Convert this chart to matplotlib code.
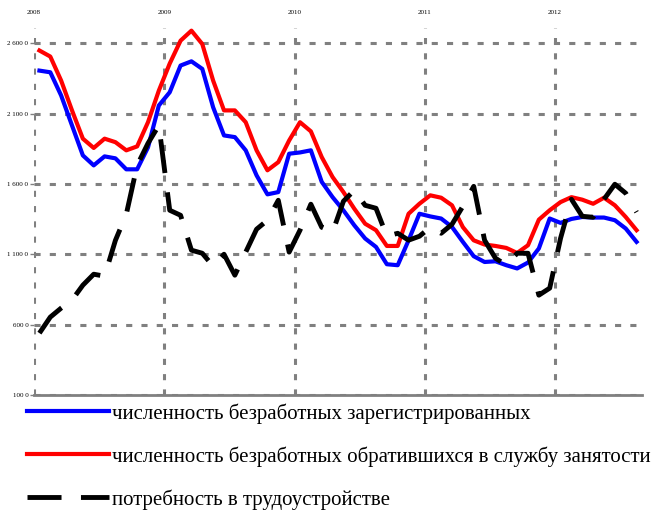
import numpy as np
import matplotlib.pyplot as plt

plt.rcParams['font.family'] = ['Liberation Serif', 'DejaVu Serif']

# monthly data, Jan 2008 - Aug 2012
years = ["2008", "2009", "2010", "2011", "2012"]
ytick_vals = [100, 600, 1100, 1600, 2100, 2600]
ytick_labels = ["100 0", "600 0", "1 100 0", "1 600 0", "2 100 0", "2 600 0"]

registered = [2407, 2395, 2230, 2017, 1804, 1733, 1797, 1783, 1705, 1705, 1861, 2159,
              2253, 2443, 2473, 2419, 2146, 1946, 1934, 1840, 1662, 1527, 1543, 1816,
              1825, 1840, 1616, 1507, 1413, 1307, 1213, 1153, 1030, 1023, 1200, 1389,
              1370, 1355, 1295, 1189, 1087, 1046, 1051, 1023, 1000, 1042, 1142, 1355,
              1324, 1352, 1366, 1362, 1362, 1343, 1284, 1189]

applied = [2550, 2507, 2336, 2124, 1923, 1857, 1923, 1898, 1840, 1868, 2040, 2265,
           2457, 2620, 2691, 2596, 2336, 2124, 2124, 2040, 1840, 1698, 1756, 1910,
           2040, 1975, 1792, 1650, 1543, 1425, 1318, 1272, 1160, 1160, 1389, 1460,
           1520, 1503, 1449, 1294, 1200, 1170, 1160, 1146, 1110, 1165, 1347, 1414,
           1472, 1507, 1489, 1460, 1503, 1449, 1366, 1272]

demand = [540, 654, 718, 775, 881, 959, 945, 1200, 1385, 1733, 1890, 2018,
          1414, 1378, 1130, 1108, 1016, 1101, 952, 1116, 1279, 1343, 1485, 1116,
          1272, 1457, 1293, 1258, 1478, 1556, 1449, 1428, 1229, 1250, 1201, 1229,
          1293, 1250, 1314, 1442, 1584, 1201, 1073, 1023, 1108, 1108, 810, 860,
          1215, 1492, 1371, 1364, 1492, 1599, 1535, 1400]

labels = ["численность безработных зарегистрированных",
          "численность безработных обратившихся в службу занятости",
          "потребность в трудоустройстве"]

x = np.arange(len(registered)) + 0.5

fig = plt.figure(figsize=(6.58, 5.11), dpi=100)
ax = fig.add_axes([34/658, 116/511, 608/658, 367/511])

l1, = ax.plot(x, registered, color='#0000ff', lw=3, solid_joinstyle='round', zorder=3)
l2, = ax.plot(x, applied, color='#ff0000', lw=3, solid_joinstyle='round', zorder=3)
l3, = ax.plot(x, demand, color='black', lw=3.5, linestyle=(0, (7, 4)), zorder=3)

ax.set_xlim(0, 56)
ax.set_ylim(100, 2710)

# year labels on top
ax.set_xticks([0, 12, 24, 36, 48])
ax.set_xticklabels(years, fontsize=5)
ax.xaxis.tick_top()
ax.tick_params(axis='x', length=0, pad=9)

ax.set_yticks(ytick_vals)
ax.set_yticklabels(ytick_labels, fontsize=5)
ax.tick_params(axis='y', length=3, width=1, color='gray', pad=1)

ax.grid(True, color='gray', lw=2.2, linestyle=(0, (2, 3)))
ax.set_axisbelow(True)

for s in ['top', 'right', 'left']:
    ax.spines[s].set_visible(False)
ax.spines['bottom'].set_color('gray')
ax.spines['bottom'].set_linewidth(2)

fig.legend([l1, l2, l3], labels, loc='upper left', bbox_to_anchor=(27/658, 1 - 403/511),
           frameon=False, fontsize=15, handlelength=3.95, handletextpad=0.12,
           labelspacing=1.08, borderpad=0, borderaxespad=0)

fig.savefig('out.png', dpi=100)
